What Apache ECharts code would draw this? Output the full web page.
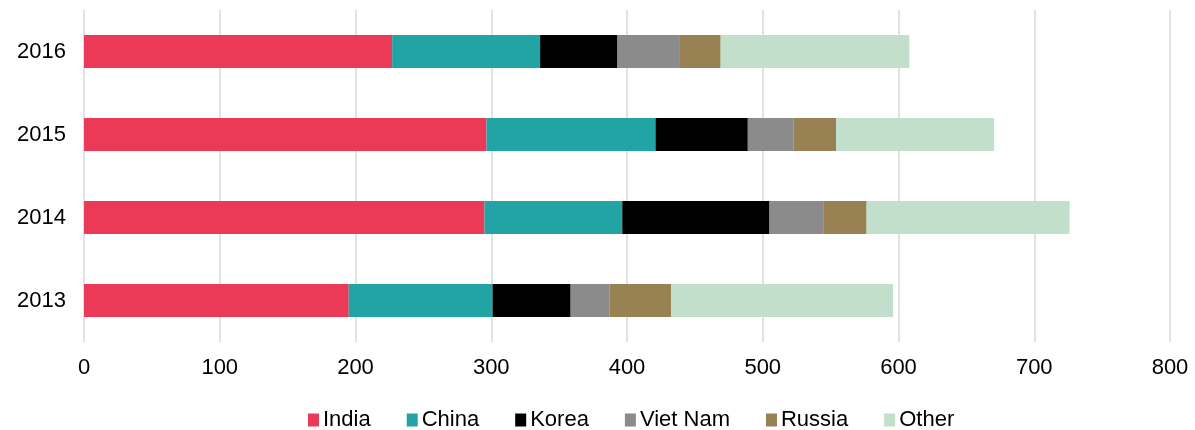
<!DOCTYPE html>
<html>
<head>
<meta charset="utf-8">
<script src="https://cdn.jsdelivr.net/npm/echarts@6/dist/echarts.min.js"></script>
<style>
  html, body { margin: 0; padding: 0; background: #ffffff; }
  #chart { width: 1195px; height: 430px; }
</style>
</head>
<body>
<div id="chart"></div>
<script>
// Years shown on the category axis (bottom to top)
const years = ['2013', '2014', '2015', '2016'];

// Values per source country, one entry per year
const india   = [195, 295, 296.5, 227];
const china   = [106, 101.5, 124.5, 109];
const korea   = [57.5, 108.5, 68, 57];
const vietNam = [28.5, 40, 33.5, 46];
const russia  = [45.5, 31.5, 31.5, 30];
const other   = [163.5, 149.5, 116.5, 139];

// Value axis ticks
const xTicks = [0, 100, 200, 300, 400, 500, 600, 700, 800];

const seriesDefs = [
  { name: 'India',    data: india,   color: '#EA3A58' },
  { name: 'China',    data: china,   color: '#22A3A4' },
  { name: 'Korea',    data: korea,   color: '#000000' },
  { name: 'Viet Nam', data: vietNam, color: '#8B8B8B' },
  { name: 'Russia',   data: russia,  color: '#988254' },
  { name: 'Other',    data: other,   color: '#C2DFCC' }
];

const font = 'Liberation Sans, Arial, sans-serif';
const chart = echarts.init(document.getElementById('chart'), null, { renderer: 'canvas' });

chart.setOption({
  animation: false,
  textStyle: { fontFamily: font },
  grid: { left: 84, right: 25, top: 10, bottom: 88, containLabel: false },
  legend: {
    top: 404,
    left: 303,
    itemWidth: 11,
    itemHeight: 13,
    itemGap: 36,
    icon: 'rect',
    textStyle: { fontFamily: font, fontSize: 22, color: '#000', padding: [0, 0, 0, -1] },
    data: seriesDefs.map(s => s.name)
  },
  xAxis: {
    type: 'value',
    min: xTicks[0],
    max: xTicks[xTicks.length - 1],
    interval: 100,
    axisLine: { show: false },
    axisTick: { show: false },
    axisLabel: { fontFamily: font, fontSize: 22, color: '#000', margin: 15 },
    splitLine: { show: true, lineStyle: { color: '#D9D9D9', width: 1.5 } }
  },
  yAxis: {
    type: 'category',
    data: years,
    axisLine: { show: false },
    axisTick: { show: false },
    axisLabel: { fontFamily: font, fontSize: 22, color: '#000', margin: 18 }
  },
  series: seriesDefs.map(s => ({
    name: s.name,
    type: 'bar',
    stack: 'total',
    barWidth: 33,
    data: s.data,
    itemStyle: { color: s.color }
  }))
});
</script>
</body>
</html>
